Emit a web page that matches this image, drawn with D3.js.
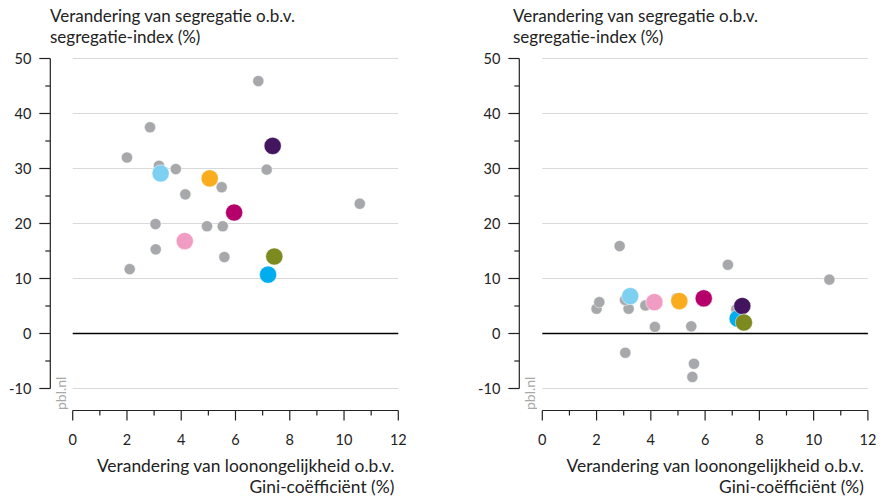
<!DOCTYPE html>
<html>
<head>
<meta charset="utf-8">
<script src="https://cdn.jsdelivr.net/npm/d3@7"></script>
<style>
  html, body { margin: 0; padding: 0; background: #fff; }
  svg { display: block; font-family: Lato, "Open Sans", sans-serif; }
</style>
</head>
<body>
<svg id="chart" width="884" height="503"></svg>
<script>
// ---------- data ----------
const yTicks = [-10, 0, 10, 20, 30, 40, 50];
const xTicks = [0, 2, 4, 6, 8, 10, 12];
const yTitleLines = ["Verandering van segregatie o.b.v.", "segregatie-index (%)"];
const xTitleLines = ["Verandering van loonongelijkheid o.b.v.", "Gini-coëfficiënt (%)"];
const sourceLabel = "pbl.nl";

// grey cities: change in Gini (x), change in segregation left/right panel (y)
const greyGini     = [6.84, 2.85, 2.00, 2.10, 3.18, 3.80, 7.15, 5.49, 5.53, 5.59, 4.15, 10.58, 3.05, 3.06, 4.95];
const greySegLeft  = [45.9, 37.5, 32.0, 11.7, 30.5, 29.9, 29.8, 26.6, 19.5, 13.9, 25.3, 23.6, 19.9, 15.3, 19.5];
const greySegRight = [12.5, 15.9, 4.5, 5.7, 4.5, 5.1, 4.4, 1.3, -7.9, -5.5, 1.2, 9.8, 6.1, -3.5, 6.4];

// highlighted cities
const hiGini     = [3.24, 4.13, 5.05, 5.95, 7.20, 7.37, 7.43];
const hiSegLeft  = [29.1, 16.8, 28.2, 22.0, 10.7, 34.1, 14.0];
const hiSegRight = [6.8, 5.7, 5.9, 6.4, 2.7, 5.0, 2.0];
const hiColors   = ["#7dd0f1", "#f09cc3", "#f9ac1d", "#b5006b", "#00aeef", "#43155e", "#7c8a1f"];
const greyColor  = "#a7a8ab";

// ---------- drawing ----------
const svg = d3.select("#chart");

function panel(opts) {
  const g = svg.append("g");
  const x = d3.scaleLinear().domain([0, 12]).range([opts.x0, opts.x0 + 325.6]);
  const y = d3.scaleLinear().domain([-14, 50]).range([410.5, 58.5]);

  // gridlines
  g.append("g").selectAll("line").data(yTicks).join("line")
    .attr("x1", x(0)).attr("x2", x(12))
    .attr("y1", d => y(d)).attr("y2", d => y(d))
    .attr("stroke", d => d === 0 ? "#000" : "#d9d9d9")
    .attr("stroke-width", d => d === 0 ? 1.3 : 1);

  // y axis
  const ya = g.append("g").attr("transform", `translate(${opts.ax},0)`);
  ya.append("line").attr("y1", y(50)).attr("y2", y(-10)).attr("stroke", "#222").attr("stroke-width", 1.2);
  ya.selectAll(".maj").data(yTicks).join("line")
    .attr("x1", -11).attr("x2", 0).attr("y1", d => y(d)).attr("y2", d => y(d))
    .attr("stroke", "#222").attr("stroke-width", 1.2);
  ya.selectAll(".min").data(d3.range(-5, 50, 10)).join("line")
    .attr("x1", -5).attr("x2", 0).attr("y1", d => y(d)).attr("y2", d => y(d))
    .attr("stroke", "#222").attr("stroke-width", 1.2);
  ya.selectAll("text").data(yTicks).join("text")
    .attr("x", -19).attr("y", d => y(d)).attr("dy", "0.35em")
    .attr("text-anchor", "end").attr("font-size", 14.5).attr("fill", "#222")
    .text(d => d);

  // x axis
  const xa = g.append("g").attr("transform", `translate(0,410.5)`);
  xa.append("line").attr("x1", x(0)).attr("x2", x(12)).attr("stroke", "#222").attr("stroke-width", 1.2);
  xa.selectAll(".maj").data(d3.range(0, 13, 1)).join("line")
    .attr("x1", d => x(d)).attr("x2", d => x(d)).attr("y1", 0).attr("y2", d => d % 2 === 0 ? 10 : 5)
    .attr("stroke", "#222").attr("stroke-width", 1.2);
  xa.selectAll("text").data(xTicks).join("text")
    .attr("x", d => x(d)).attr("y", 34)
    .attr("text-anchor", "middle").attr("font-size", 14.5).attr("fill", "#222")
    .text(d => d);

  // titles
  g.append("text").attr("x", opts.tx).attr("y", 22).attr("font-size", 17).attr("fill", "#222")
    .selectAll("tspan").data(yTitleLines).join("tspan")
    .attr("x", opts.tx).attr("dy", (d, i) => i === 0 ? 0 : 20.5).text(d => d);
  g.append("text").attr("y", 472).attr("font-size", 17.4).attr("fill", "#222").attr("text-anchor", "end")
    .selectAll("tspan").data(xTitleLines).join("tspan")
    .attr("x", x(12) - 4).attr("dy", (d, i) => i === 0 ? 0 : 21).text(d => d);

  // source
  g.append("text").attr("transform", `translate(${opts.ax + 16},410) rotate(-90)`)
    .attr("font-size", 14).attr("fill", "#a8a8a8").text(sourceLabel);

  // grey points
  g.append("g").selectAll("circle").data(greyGini).join("circle")
    .attr("cx", d => x(d)).attr("cy", (d, i) => y(opts.greyY[i])).attr("r", 5.6)
    .attr("fill", greyColor).attr("stroke", "#fff").attr("stroke-width", 0.5);

  // highlighted points
  g.append("g").selectAll("circle").data(hiGini).join("circle")
    .attr("cx", d => x(d)).attr("cy", (d, i) => y(opts.hiY[i])).attr("r", 8.6)
    .attr("fill", (d, i) => hiColors[i]).attr("stroke", "#fff").attr("stroke-width", 0.5);
}

panel({ x0: 72.7, ax: 50.3, tx: 50, greyY: greySegLeft, hiY: hiSegLeft });
panel({ x0: 542.3, ax: 519.3, tx: 513, greyY: greySegRight, hiY: hiSegRight });
</script>
</body>
</html>
